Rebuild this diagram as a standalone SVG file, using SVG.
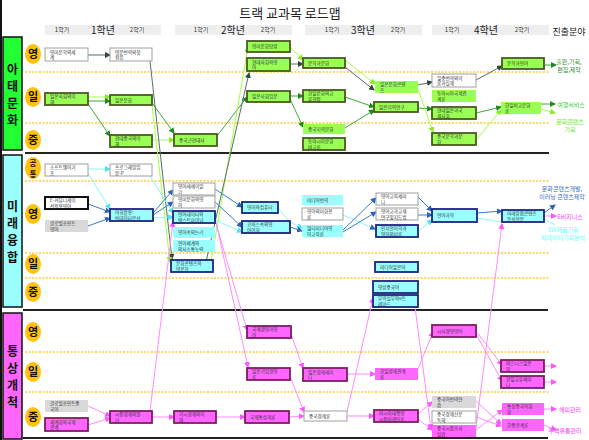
<svg xmlns="http://www.w3.org/2000/svg" width="589" height="440" viewBox="0 0 589 440">
<defs>
<style>
.t{font-family:"Noto Sans CJK KR","Noto Sans",sans-serif;font-size:4.6px;fill:#333}
.g{fill:#99ff55;stroke:#4b5a20;stroke-width:1.8}
.gl{fill:#99ff55}
.c{fill:#99ffff;stroke:#1f2380;stroke-width:1.8}
.cl{fill:#99ffff}
.m{fill:#ff66ff;stroke:#7a1f60;stroke-width:1.8}
.ml{fill:#ff66ff}
.w{fill:#fff;stroke:#a0a0a0;stroke-width:1}
.k{fill:#fff;stroke:#111;stroke-width:2}
.gr{fill:#d9d9d9}
.circ{fill:#ffc20e}
.cl2{font-family:"Noto Sans CJK KR",sans-serif;font-size:11px;font-weight:bold;fill:#111;text-anchor:middle}
.cl3{font-family:"Noto Sans CJK KR",sans-serif;font-size:7.5px;font-weight:bold;fill:#111;text-anchor:middle}
.big{font-family:"Noto Sans CJK KR",sans-serif;font-size:12px;font-weight:bold;fill:#111;text-anchor:middle}
.dot{stroke:#ffcc33;stroke-width:1.5;stroke-dasharray:2,1.5}
.sep{stroke:#222;stroke-width:2}
.hd{font-family:"Noto Sans CJK KR",sans-serif;font-size:6px;fill:#333;text-anchor:middle}
.yr{font-family:"Noto Sans CJK KR",sans-serif;font-size:10px;fill:#222;text-anchor:middle}
.out{font-family:"Noto Sans CJK KR",sans-serif;font-size:6px;text-anchor:middle}
#conn path{fill:none;stroke-width:1}
.dk{stroke:#56706a}
.gn{stroke:#3aa83a}
.lg{stroke:#a4ff40}
.bl{stroke:#3a7ccc}
.cy{stroke:#8af6ff}
.pk{stroke:#ff8cff}
</style>
<marker id="adk" markerWidth="6" markerHeight="6" refX="5" refY="3" orient="auto" markerUnits="userSpaceOnUse"><path d="M0,0L6,3L0,6z" fill="#2e4a3e"/></marker>
<marker id="agn" markerWidth="6" markerHeight="6" refX="5" refY="3" orient="auto" markerUnits="userSpaceOnUse"><path d="M0,0L6,3L0,6z" fill="#1f8a1f"/></marker>
<marker id="alg" markerWidth="6" markerHeight="6" refX="5" refY="3" orient="auto" markerUnits="userSpaceOnUse"><path d="M0,0L6,3L0,6z" fill="#88ee22"/></marker>
<marker id="abl" markerWidth="6" markerHeight="6" refX="5" refY="3" orient="auto" markerUnits="userSpaceOnUse"><path d="M0,0L6,3L0,6z" fill="#2a63b8"/></marker>
<marker id="acy" markerWidth="6" markerHeight="6" refX="5" refY="3" orient="auto" markerUnits="userSpaceOnUse"><path d="M0,0L6,3L0,6z" fill="#55e0f0"/></marker>
<marker id="apk" markerWidth="6" markerHeight="6" refX="5" refY="3" orient="auto" markerUnits="userSpaceOnUse"><path d="M0,0L6,3L0,6z" fill="#ff55ff"/></marker>
</defs>
<rect width="589" height="440" fill="#fff"/>
<line x1="1" y1="0" x2="1" y2="440" stroke="#111" stroke-width="2"/>

<g id="header">
<text x="290" y="18" font-family="Noto Sans CJK KR,sans-serif" font-size="13" fill="#222" text-anchor="middle">트랙 교과목 로드맵</text>
<rect x="45" y="25" width="116" height="10" fill="#eeeeee"/>
<rect x="175" y="25" width="117" height="10" fill="#eeeeee"/>
<rect x="305" y="25" width="117" height="10" fill="#eeeeee"/>
<rect x="432" y="25" width="117" height="10" fill="#eeeeee"/>
<text class="hd" x="62" y="32">1학기</text><text class="yr" x="103" y="34">1학년</text><text class="hd" x="137" y="32">2학기</text>
<text class="hd" x="201" y="32">1학기</text><text class="yr" x="233" y="34">2학년</text><text class="hd" x="268" y="32">2학기</text>
<text class="hd" x="332" y="32">1학기</text><text class="yr" x="363" y="34">3학년</text><text class="hd" x="398" y="32">2학기</text>
<text class="hd" x="452" y="32">1학기</text><text class="yr" x="486" y="34">4학년</text><text class="hd" x="522" y="32">2학기</text>
<text x="569" y="35" font-family="Noto Sans CJK KR,sans-serif" font-size="9" fill="#222" text-anchor="middle">진출분야</text>
</g>

<g id="frame">
<rect x="3" y="37" width="19" height="113" fill="#22ff33" stroke="#111" stroke-width="1.5"/>
<rect x="3" y="155" width="19" height="152" fill="#99ffff" stroke="#111" stroke-width="1.5"/>
<rect x="3" y="313" width="19" height="126" fill="#ff66ff" stroke="#111" stroke-width="1.5"/>
<text class="big" x="12.5" y="73.5"><tspan x="12.5">아</tspan><tspan x="12.5" dy="17">태</tspan><tspan x="12.5" dy="17">문</tspan><tspan x="12.5" dy="17">화</tspan></text>
<text class="big" x="12.5" y="210.5"><tspan x="12.5">미</tspan><tspan x="12.5" dy="17">래</tspan><tspan x="12.5" dy="17">융</tspan><tspan x="12.5" dy="17">합</tspan></text>
<text class="big" x="12.5" y="355.5"><tspan x="12.5">통</tspan><tspan x="12.5" dy="17">상</tspan><tspan x="12.5" dy="17">개</tspan><tspan x="12.5" dy="17">척</tspan></text>
<line class="sep" x1="25" y1="153" x2="549" y2="153"/>
<line class="sep" x1="23" y1="310" x2="548" y2="310"/>
<line class="sep" x1="23" y1="438" x2="548" y2="438"/>
<line class="dot" x1="25" y1="72" x2="549" y2="72"/>
<line class="dot" x1="25" y1="123" x2="549" y2="123"/>
<line class="dot" x1="25" y1="181" x2="549" y2="181"/>
<line class="dot" x1="25" y1="253" x2="549" y2="253"/>
<line class="dot" x1="25" y1="278" x2="549" y2="278"/>
<line class="dot" x1="25" y1="352" x2="549" y2="352"/>
<line class="dot" x1="25" y1="392" x2="549" y2="392"/>
<ellipse class="circ" cx="33" cy="54" rx="8" ry="10"/><text class="cl2" x="33" y="58">영</text>
<ellipse class="circ" cx="33" cy="97" rx="8" ry="10"/><text class="cl2" x="33" y="101">일</text>
<ellipse class="circ" cx="33" cy="140" rx="8" ry="10"/><text class="cl2" x="33" y="144">중</text>
<ellipse class="circ" cx="33" cy="168" rx="8" ry="11"/><text class="cl3" x="33" y="166"><tspan x="33">공</tspan><tspan x="33" dy="11">통</tspan></text>
<ellipse class="circ" cx="33" cy="214" rx="8" ry="10"/><text class="cl2" x="33" y="218">영</text>
<ellipse class="circ" cx="33" cy="264" rx="8" ry="10"/><text class="cl2" x="33" y="268">일</text>
<ellipse class="circ" cx="33" cy="292" rx="8" ry="10"/><text class="cl2" x="33" y="296">중</text>
<ellipse class="circ" cx="33" cy="332" rx="8" ry="10"/><text class="cl2" x="33" y="336">영</text>
<ellipse class="circ" cx="33" cy="372" rx="8" ry="10"/><text class="cl2" x="33" y="376">일</text>
<ellipse class="circ" cx="33" cy="417" rx="8" ry="10"/><text class="cl2" x="33" y="421">중</text>
</g>

<g id="conn">
<path class="dk" d="M88,55 L110,55" marker-end="url(#adk)"/>
<path class="lg" d="M88,97 L110,97" marker-end="url(#alg)"/>
<path class="gn" d="M88,101 L110,101" marker-end="url(#agn)"/>
<path class="gn" d="M88,104 L110,136" marker-end="url(#agn)"/>
<path class="gn" d="M152,103 L174,133" marker-end="url(#agn)"/>
<path class="lg" d="M152,140 L174,140" marker-end="url(#alg)" style="stroke:#b8e8a0"/>
<path class="gn" d="M217,136 L247,97" marker-end="url(#agn)"/>
<path class="dk" d="M150,61 L172,259" marker-end="url(#adk)"/>
<path class="lg" d="M152,105 L170,262" marker-end="url(#alg)"/>
<path class="lg" d="M211,262 L248,47" marker-end="url(#alg)"/>
<path class="dk" d="M206,262 L249,73" marker-end="url(#adk)"/>
<path class="lg" d="M290,47 L303,60" marker-end="url(#alg)"/>
<path class="dk" d="M290,64 L303,64" marker-end="url(#adk)"/>
<path class="gn" d="M290,96 L303,96" marker-end="url(#agn)"/>
<path class="gn" d="M290,99 L303,127" marker-end="url(#agn)"/>
<path class="lg" d="M345,60 L375,84" marker-end="url(#alg)"/>
<path class="dk" d="M345,67 L374,90" marker-end="url(#adk)"/>
<path class="gn" d="M345,97 L374,107" marker-end="url(#agn)"/>
<path class="gn" d="M345,128 L374,110" marker-end="url(#agn)"/>
<path class="dk" d="M418,85 L432,82" marker-end="url(#adk)"/>
<path class="gn" d="M418,108 L432,109" marker-end="url(#agn)"/>
<path class="lg" d="M418,89 L433,132" marker-end="url(#alg)"/>
<path class="dk" d="M476,80 L502,66" marker-end="url(#adk)"/>
<path class="gn" d="M476,113 L501,107" marker-end="url(#agn)"/>
<path class="lg" d="M476,140 L501,110" marker-end="url(#alg)"/>
<path class="gn" d="M544,65 L556,65" marker-end="url(#agn)"/>
<path class="gn" d="M541,104 L555,104" marker-end="url(#agn)"/>
<path class="lg" d="M541,109 L555,113" marker-end="url(#alg)"/>

<path class="cy" d="M88,169 L110,169" marker-end="url(#acy)"/>
<path class="cy" d="M88,173 L110,209" marker-end="url(#acy)"/>
<path class="bl" d="M88,204 L110,212" marker-end="url(#abl)"/>
<path class="bl" d="M88,226 L110,218" marker-end="url(#abl)"/>
<path class="cy" d="M150,176 L173,213" marker-end="url(#acy)"/>
<path class="bl" d="M153,213 L173,190" marker-end="url(#abl)"/>
<path class="bl" d="M153,215 L173,202" marker-end="url(#abl)"/>
<path class="cy" d="M153,218 L173,217" marker-end="url(#acy)"/>
<path class="bl" d="M215,189 L242,207" marker-end="url(#abl)"/>
<path class="bl" d="M215,202 L242,227" marker-end="url(#abl)"/>
<path class="cy" d="M215,220 L242,232" marker-end="url(#acy)"/>
<path class="cy" d="M278,208 L290,222 L302,228" marker-end="url(#acy)"/>
<path class="bl" d="M290,227 L302,231" marker-end="url(#abl)"/>
<path class="cy" d="M343,215 L375,229" marker-end="url(#abl)"/>
<path class="bl" d="M343,230 L376,198" marker-end="url(#abl)"/>
<path class="bl" d="M343,232 L376,212" marker-end="url(#abl)"/>
<path class="bl" d="M418,197 L432,211" marker-end="url(#abl)"/>
<path class="bl" d="M418,215 L432,215" marker-end="url(#abl)"/>
<path class="cy" d="M418,232 L432,220" marker-end="url(#acy)"/>
<path class="bl" d="M477,213 L502,211" marker-end="url(#abl)"/>
<path class="cy" d="M477,218 L502,222"/>
<path class="bl" d="M544,213 L555,205" marker-end="url(#abl)"/>
<path class="pk" d="M544,216 L556,216" marker-end="url(#apk)"/>
<path class="cy" d="M544,219 L555,225"/>

<path class="pk" d="M150,411 L173,222" marker-end="url(#apk)"/>
<path class="pk" d="M213,213 L247,330" marker-end="url(#apk)"/>
<path class="pk" d="M215,218 L248,367" marker-end="url(#apk)"/>
<path class="pk" d="M88,406 L110,416" marker-end="url(#apk)"/>
<path class="pk" d="M88,425 L110,418" marker-end="url(#apk)"/>
<path class="pk" d="M152,417 L174,417" marker-end="url(#apk)"/>
<path class="pk" d="M216,417 L245,417" marker-end="url(#apk)"/>
<path class="pk" d="M291,334 L303,368" marker-end="url(#apk)"/>
<path class="pk" d="M290,376 L304,412" marker-end="url(#apk)"/>
<path class="pk" d="M289,417 L304,416" marker-end="url(#apk)"/>
<path class="pk" d="M347,374 L375,374" marker-end="url(#apk)"/>
<path class="pk" d="M347,416 L374,416" marker-end="url(#apk)"/>
<path class="pk" d="M347,412 L373,298" marker-end="url(#apk)"/>
<path class="pk" d="M418,369 L433,332" marker-end="url(#apk)"/>
<path class="pk" d="M415,307 L431,429" marker-end="url(#apk)"/>
<path class="pk" d="M418,414 L432,402" marker-end="url(#apk)"/>
<path class="pk" d="M418,419 L432,430" marker-end="url(#apk)"/>
<path class="pk" d="M476,331 L502,365" marker-end="url(#apk)"/>
<path class="pk" d="M476,334 L502,381" marker-end="url(#apk)"/>
<path class="pk" d="M544,366 L556,366" marker-end="url(#apk)"/>
<path class="pk" d="M544,382 L556,382" marker-end="url(#apk)"/>
<path class="pk" d="M476,401 L501,424" marker-end="url(#apk)"/>
<path class="pk" d="M476,417 L501,426" marker-end="url(#apk)"/>
<path class="pk" d="M476,430 L502,410" marker-end="url(#apk)"/>
<path class="pk" d="M476,428 L502,224" marker-end="url(#apk)"/>
<path class="pk" d="M544,409 L556,409" marker-end="url(#apk)"/>
<path class="pk" d="M544,425 L556,430" marker-end="url(#apk)"/>
</g>

<g id="n1"><rect class="w" x="45" y="48" width="43" height="13"/><text class="t" x="50" y="53.6">영미문학의세</text><text class="t" x="50" y="59.4">계</text></g>
<g id="n2"><rect class="w" x="110" y="48" width="42" height="13"/><text class="t" x="115" y="53.6">영문번역의첫</text><text class="t" x="115" y="59.4">걸음</text></g>
<g id="n3"><rect class="g" x="45" y="93" width="43" height="12"/><text class="t" x="50" y="98.1">일본사회의이</text><text class="t" x="50" y="103.9">해</text></g>
<g id="n4"><rect class="g" x="110" y="95" width="42" height="10"/><text class="t" x="115" y="101.7">일본문화</text></g>
<g id="n5"><rect class="g" x="110" y="135" width="42" height="12"/><text class="t" x="115" y="140.1">현대중국의이</text><text class="t" x="115" y="145.9">해</text></g>
<g id="n6"><rect class="g" x="174" y="134" width="43" height="12"/><text class="t" x="179" y="141.7">중국근현대사</text></g>
<g id="n7"><rect class="g" x="247" y="41" width="43" height="11"/><text class="t" x="252" y="48.2">영미문화탐방</text></g>
<g id="n8"><rect class="g" x="247" y="58" width="43" height="13"/><text class="t" x="252" y="63.6">현대사회와영</text><text class="t" x="252" y="69.4">어</text></g>
<g id="n9"><rect class="g" x="247" y="91" width="43" height="11"/><text class="t" x="252" y="98.2">일본사회입문</text></g>
<g id="n10"><rect class="g" x="303" y="58" width="42" height="10"/><text class="t" x="308" y="64.7">문학과문화</text></g>
<g id="n11"><rect class="g" x="303" y="90" width="42" height="12"/><text class="t" x="308" y="95.1">한일문화의교</text><text class="t" x="308" y="100.9">류현장</text></g>
<g id="n12"><rect class="gl" x="303" y="124" width="42" height="10"/><text class="t" x="308" y="130.7">중국지역문화</text></g>
<g id="n13"><rect class="g" x="303" y="138" width="42" height="12"/><text class="t" x="308" y="143.1">동아시아문화</text><text class="t" x="308" y="148.9">비교론</text></g>
<g id="n14"><rect class="gl" x="375" y="81" width="43" height="12"/><text class="t" x="380" y="86.1">일본문화콘텐</text><text class="t" x="380" y="91.9">츠</text></g>
<g id="n15"><rect class="g" x="374" y="102" width="44" height="10"/><text class="t" x="379" y="108.7">일본지역연구</text></g>
<g id="n16"><rect class="w" x="432" y="74" width="44" height="13"/><text class="t" x="437" y="79.6">일중번역의이</text><text class="t" x="437" y="85.4">론과실제</text></g>
<g id="n17"><rect class="gl" x="432" y="90" width="44" height="12"/><text class="t" x="437" y="95.1">동아시아국제관</text><text class="t" x="437" y="100.9">계론</text></g>
<g id="n18"><rect class="g" x="432" y="107" width="44" height="12"/><text class="t" x="437" y="112.1">현대일본과국</text><text class="t" x="437" y="117.9">제사회</text></g>
<g id="n19"><rect class="g" x="432" y="133" width="44" height="12"/><text class="t" x="437" y="138.1">중국문학과문</text><text class="t" x="437" y="143.9">화</text></g>
<g id="n20"><rect class="g" x="502" y="58" width="42" height="11"/><text class="t" x="507" y="65.2">문학과언어</text></g>
<g id="n21"><rect class="gl" x="501" y="102" width="40" height="12"/><text class="t" x="505" y="107.1">한일비교문화</text><text class="t" x="505" y="112.9">론</text></g>

<g id="n22"><rect class="w" x="45" y="164" width="43" height="12"/><text class="t" x="50" y="169.1">소프트웨어기</text><text class="t" x="50" y="174.9">초</text></g>
<g id="n23"><rect class="w" x="110" y="164" width="42" height="12"/><text class="t" x="115" y="169.1">프로그래밍입</text><text class="t" x="115" y="174.9">문-P</text></g>
<g id="n24"><rect class="k" x="45" y="197" width="43" height="12"/><text class="t" x="50" y="202.1">E-커뮤니케이</text><text class="t" x="50" y="207.9">션활용영어</text></g>
<g id="n25"><rect class="gr" x="45" y="220" width="43" height="12"/><text class="t" x="50" y="225.1">글로벌조인트</text><text class="t" x="50" y="230.9">영어</text></g>
<g id="n26"><rect class="c" x="110" y="209" width="43" height="12"/><text class="t" x="115" y="214.1">어휘활용:</text><text class="t" x="115" y="219.9">빅데이터분석</text></g>
<g id="n27"><rect class="w" x="173" y="183" width="42" height="12"/><text class="t" x="178" y="188.1">영어에세이읽</text><text class="t" x="178" y="193.9">기</text></g>
<g id="n28"><rect class="w" x="173" y="196" width="42" height="12"/><text class="t" x="178" y="201.1">영미문화와영</text><text class="t" x="178" y="206.9">어</text></g>
<g id="n29"><rect class="c" x="173" y="211" width="42" height="12"/><text class="t" x="178" y="216.1">언어데이터와</text><text class="t" x="178" y="221.9">텍스트마이닝</text></g>
<g id="n30"><rect class="cl" x="173" y="227" width="42" height="11"/><text class="t" x="178" y="234.2">영어속의논리</text></g>
<g id="n31"><rect class="cl" x="173" y="240" width="42" height="12"/><text class="t" x="178" y="245.1">언어체계와</text><text class="t" x="178" y="250.9">의사소통능력</text></g>
<g id="n32"><rect class="c" x="171" y="260" width="42" height="12"/><text class="t" x="176" y="265.1">문화콘텐츠와</text><text class="t" x="176" y="270.9">영문학</text></g>
<g id="n33"><rect class="c" x="242" y="202" width="36" height="11"/><text class="t" x="247" y="209.2">영어와컴퓨터</text></g>
<g id="n34"><rect class="c" x="242" y="221" width="48" height="12"/><text class="t" x="247" y="226.1">코퍼스속의영</text><text class="t" x="247" y="231.9">어어휘</text></g>
<g id="n35"><rect class="cl" x="302" y="195" width="41" height="10"/><text class="t" x="307" y="201.7">미디어번역</text></g>
<g id="n36"><rect class="w" x="302" y="208" width="41" height="12"/><text class="t" x="307" y="213.1">영어의미화용</text><text class="t" x="307" y="218.9">론</text></g>
<g id="n37"><rect class="cl" x="302" y="225" width="41" height="12"/><text class="t" x="307" y="230.1">멀티미디어영</text><text class="t" x="307" y="235.9">어교육론</text></g>
<g id="n38"><rect class="w" x="376" y="193" width="42" height="12"/><text class="t" x="381" y="198.1">영어교육세미</text><text class="t" x="381" y="203.9">나</text></g>
<g id="n39"><rect class="w" x="376" y="208" width="42" height="12"/><text class="t" x="381" y="213.1">영어교과교재</text><text class="t" x="381" y="218.9">연구및지도법</text></g>
<g id="n40"><rect class="c" x="376" y="225" width="42" height="12"/><text class="t" x="381" y="230.1">인지언어학과</text><text class="t" x="381" y="235.9">영어의미론</text></g>
<g id="n41"><rect class="c" x="375" y="262" width="43" height="10"/><text class="t" x="380" y="268.7">미디어일본어</text></g>
<g id="n42"><rect class="c" x="373" y="281" width="45" height="12"/><text class="t" x="378" y="288.7">영상중국어</text></g>
<g id="n43"><rect class="c" x="373" y="295" width="45" height="12"/><text class="t" x="378" y="300.1">무역실무와e트</text><text class="t" x="378" y="305.9">레이드</text></g>
<g id="n44"><rect class="c" x="432" y="209" width="45" height="13"/><text class="t" x="437" y="217.2">언어과학</text></g>
<g id="n45"><rect class="c" x="502" y="210" width="42" height="12"/><text class="t" x="507" y="215.1">미래융합콘텐츠</text><text class="t" x="507" y="220.9">분석전문</text></g>

<g id="n46"><rect class="gr" x="45" y="400" width="43" height="12"/><text class="t" x="50" y="405.1">글로벌조인트중</text><text class="t" x="50" y="410.9">국어</text></g>
<g id="n47"><rect class="m" x="45" y="418" width="43" height="13"/><text class="t" x="50" y="423.6">세계화와국제</text><text class="t" x="50" y="429.4">관계</text></g>
<g id="n48"><rect class="m" x="110" y="411" width="42" height="12"/><text class="t" x="115" y="416.1">시장경제의원</text><text class="t" x="115" y="421.9">리</text></g>
<g id="n49"><rect class="m" x="174" y="411" width="42" height="12"/><text class="t" x="179" y="416.1">거시경제의이</text><text class="t" x="179" y="421.9">해</text></g>
<g id="n50"><rect class="m" x="245" y="411" width="44" height="12"/><text class="t" x="250" y="418.7">국제통상개론</text></g>
<g id="n51"><rect class="m" x="247" y="326" width="44" height="12"/><text class="t" x="252" y="331.1">국제경영과영</text><text class="t" x="252" y="336.9">어</text></g>
<g id="n52"><rect class="m" x="247" y="368" width="43" height="12"/><text class="t" x="252" y="373.1">일본기업경영</text><text class="t" x="252" y="378.9">론</text></g>
<g id="n53"><rect class="m" x="303" y="368" width="44" height="13"/><text class="t" x="308" y="373.6">일본경제세미</text><text class="t" x="308" y="379.4">나</text></g>
<g id="n54"><rect class="ml" x="375" y="368" width="43" height="12"/><text class="t" x="380" y="373.1">한일경제관계</text><text class="t" x="380" y="378.9">론</text></g>
<g id="n55"><rect class="w" x="304" y="411" width="43" height="10"/><text class="t" x="309" y="417.7">중국경제론</text></g>
<g id="n56"><rect class="m" x="374" y="410" width="44" height="12"/><text class="t" x="379" y="415.1">아시아태평양</text><text class="t" x="379" y="420.9">시장마케팅론</text></g>
<g id="n57"><rect class="m" x="432" y="325" width="44" height="12"/><text class="t" x="437" y="332.7">시사경영영어</text></g>
<g id="n58"><rect class="m" x="501" y="360" width="43" height="12"/><text class="t" x="506" y="365.1">비즈니스일본</text><text class="t" x="506" y="370.9">어</text></g>
<g id="n59"><rect class="m" x="501" y="376" width="43" height="12"/><text class="t" x="506" y="381.1">한일교류세미</text><text class="t" x="506" y="386.9">나</text></g>
<g id="n60"><rect class="gr" x="432" y="396" width="44" height="12"/><text class="t" x="437" y="401.1">중국어번역연</text><text class="t" x="437" y="406.9">습</text></g>
<g id="n61"><rect class="w" x="432" y="411" width="44" height="12"/><text class="t" x="437" y="416.1">중국경제신문</text><text class="t" x="437" y="421.9">독해</text></g>
<g id="n62"><rect class="ml" x="432" y="425" width="44" height="12"/><text class="t" x="437" y="430.1">중국시장조사</text><text class="t" x="437" y="435.9">실습</text></g>
<g id="n63"><rect class="ml" x="502" y="403" width="42" height="12"/><text class="t" x="507" y="408.1">통상중국어회</text><text class="t" x="507" y="413.9">화</text></g>
<g id="n64"><rect class="ml" x="502" y="419" width="42" height="12"/><text class="t" x="507" y="426.7">한중관계론</text></g>

<g id="outcomes">
<text class="out" x="569" y="64" fill="#2e8b2e">출판,기획,</text><text class="out" x="569" y="72" fill="#2e8b2e">편집,제작</text>
<text class="out" x="571" y="106.5" fill="#33cc33">여행서비스</text>
<text class="out" x="570" y="124" fill="#66ee22">문화콘텐츠</text><text class="out" x="570" y="132" fill="#66ee22">기획</text>
<text class="out" x="562" y="191" fill="#3a6fbf">문화콘텐츠개발,</text><text class="out" x="562" y="199" fill="#3a6fbf">이러닝 콘텐츠제작</text>
<text class="out" x="570" y="218.5" fill="#ff33ff">E비지니스</text>
<text class="out" x="563" y="232" fill="#66ffff">SW제품기획</text><text class="out" x="563" y="240" fill="#66ffff">빅데이터기획분석</text>
<text class="out" x="570" y="411.5" fill="#ff33ff">해외관리</text>
<text class="out" x="565" y="433" fill="#ff33ff">무역유통관리</text>
</g>
</svg>
